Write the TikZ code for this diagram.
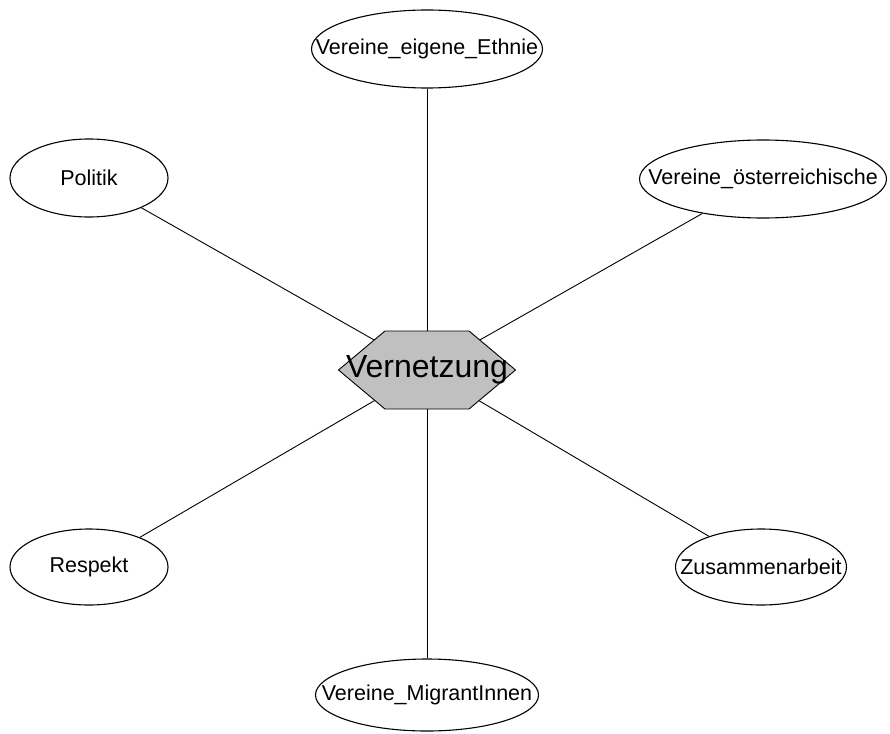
\documentclass[tikz,border=0pt]{standalone}
\usepackage{fontspec}
\setmainfont{Liberation Sans}
\usetikzlibrary{shapes.geometric,shapes.symbols}
\definecolor{hubgray}{RGB}{192,192,192}
% zero-width label, so the shape keeps its given size
\newcommand{\lbl}[1]{\makebox[0pt]{#1}}

\begin{document}
\begin{tikzpicture}[x=1pt,y=-1pt,line width=0.9pt]
\tikzstyle{every node}+=[inner sep=0pt]
\tikzstyle{topic}=[draw,ellipse,line width=1.1pt,font=\fontsize{21.5}{21.5}\selectfont]
\tikzstyle{hub}=[draw,signal,signal to=west and east,signal pointer angle=80,fill=hubgray,minimum width=177pt,minimum height=78pt,font=\fontsize{32}{32}\selectfont]
\useasboundingbox (0,0) rectangle (890,733);
% centre
\node [hub] (vern) at (427,370) {\lbl{Vernetzung}};
% the six topics around it
\node [topic,minimum width=231pt,minimum height=78pt] (ethnie) at (427,49) {\lbl{Vereine\_eigene\_Ethnie}};
\node [topic,minimum width=247pt,minimum height=78pt] (oesterr) at (763,179) {\lbl{Vereine\_österreichische}};
\node [topic,minimum width=158pt,minimum height=78pt] (politik) at (89,178) {\lbl{Politik}};
\node [topic,minimum width=158pt,minimum height=76pt] (respekt) at (89,567) {\lbl{Respekt}};
\node [topic,minimum width=171pt,minimum height=76pt] (zusammen) at (761,567) {\lbl{Zusammenarbeit}};
\node [topic,minimum width=223pt,minimum height=72pt] (migrant) at (427,695) {\lbl{Vereine\_MigrantInnen}};
% links
\draw (vern) -- (ethnie);
\draw (vern) -- (oesterr);
\draw (vern) -- (politik);
\draw (vern) -- (respekt);
\draw (vern) -- (zusammen);
\draw (vern) -- (migrant);
\end{tikzpicture}
\end{document}
